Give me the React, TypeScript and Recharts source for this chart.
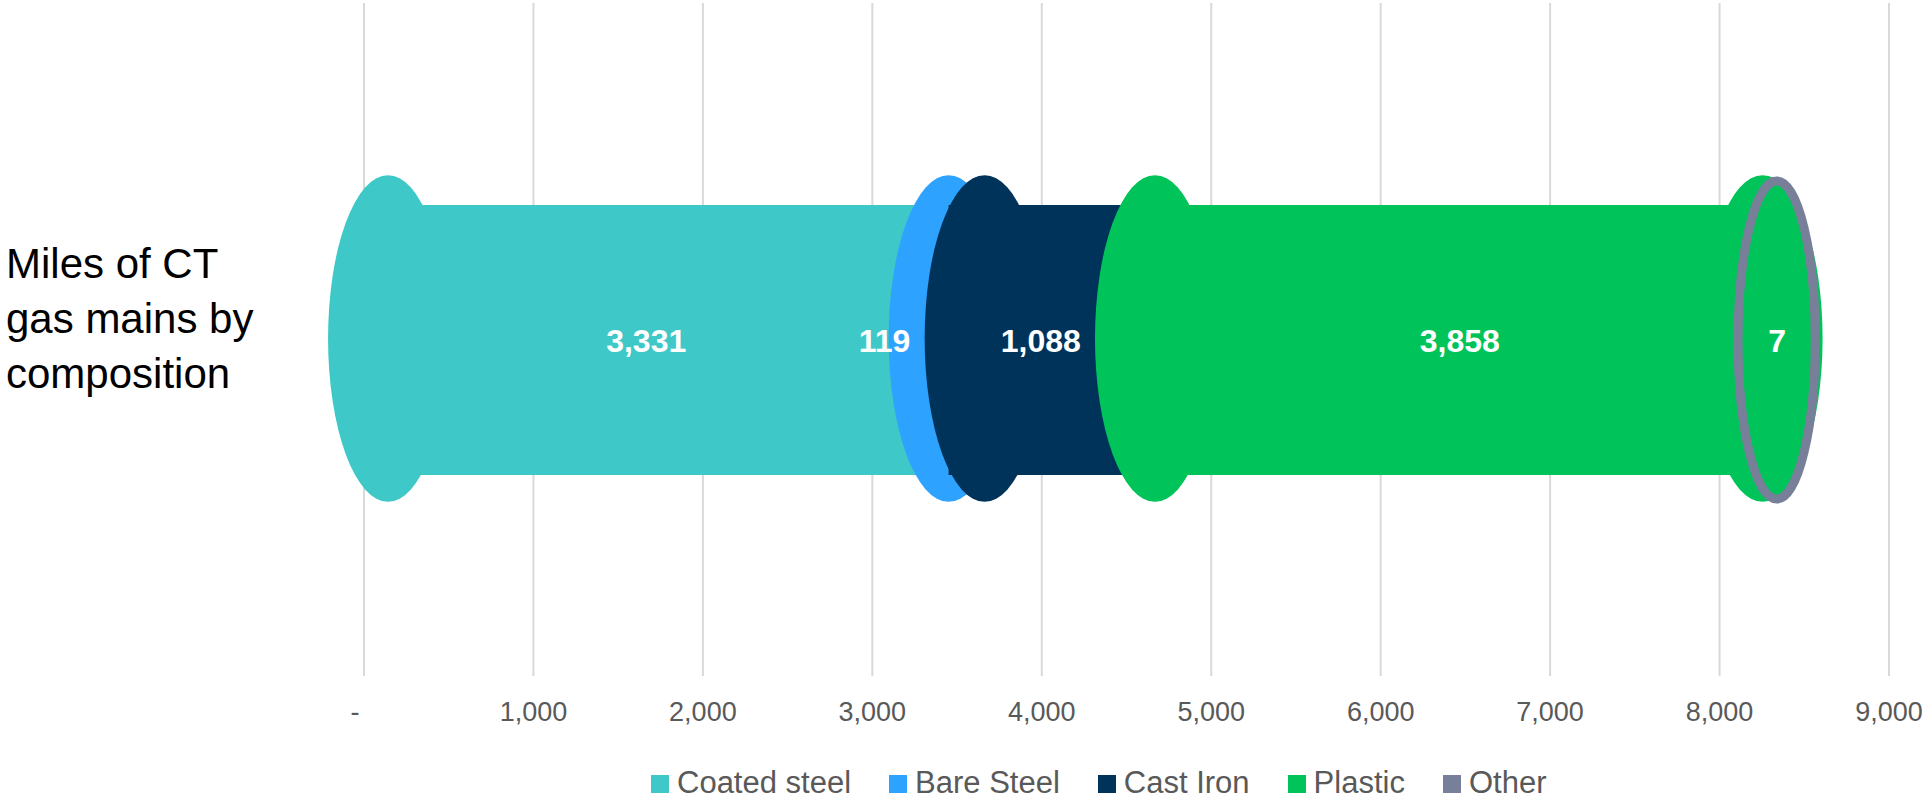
import React from 'react';
import { BarChart, Bar, XAxis, YAxis, CartesianGrid, LabelList, Legend } from 'recharts';

// Miles of gas mains by pipe material
const categories = ['Miles of CT gas mains by composition'];
const seriesNames = ['Coated steel', 'Bare Steel', 'Cast Iron', 'Plastic', 'Other'];
const coatedSteel = [3331];
const bareSteel = [119];
const castIron = [1088];
const plastic = [3858];
const other = [7];
const axisTicks = [0, 1000, 2000, 3000, 4000, 5000, 6000, 7000, 8000, 9000];

const FONT = "'Liberation Sans', Arial, sans-serif";
const WIDTH = 1929;
const HEIGHT = 801;

const data = categories.map((name, i) => ({
  name,
  coated: coatedSteel[i],
  bare: bareSteel[i],
  cast: castIron[i],
  plastic: plastic[i],
  other: other[i],
}));

type PipeOpts = { lead: number; tail?: number; ring?: boolean };

// Each segment is a pipe body with a flange (ellipse) near its start;
// the ring style draws only an outlined collar.
const pipeShape = (opts: PipeOpts) => (props: any) => {
  const { x, y, width, height, fill } = props;
  const cy = y + height / 2;
  const rx = height * 0.222;
  const ry = height * 0.605;
  if (opts.ring) {
    return (
      <ellipse
        cx={x + opts.lead}
        cy={cy}
        rx={height * 0.143}
        ry={height * 0.589}
        fill="none"
        stroke={fill}
        strokeWidth={9}
      />
    );
  }
  const lead = Math.min(opts.lead, width);
  return (
    <g>
      <rect x={x} y={y} width={width} height={height} fill={fill} />
      <ellipse cx={x + lead} cy={cy - 1.5} rx={rx} ry={ry} fill={fill} />
      {opts.tail !== undefined && (
        <ellipse cx={x + width - opts.tail} cy={cy - 1.5} rx={rx} ry={ry} fill={fill} />
      )}
    </g>
  );
};

const valueLabel = (dx: number) => (props: any) => {
  const vb = props.viewBox && props.viewBox.width !== undefined ? props.viewBox : props;
  const { x, y, width, height } = vb;
  const { value } = props;
  return (
    <text
      x={x + width / 2 + dx}
      y={y + height / 2}
      dy="0.36em"
      textAnchor="middle"
      fill="#ffffff"
      fontWeight={700}
      fontSize={32}
      fontFamily={FONT}
    >
      {Number(value).toLocaleString('en-US')}
    </text>
  );
};

const series = [
  { key: 'coated', name: seriesNames[0], color: '#3EC8C7', shape: pipeShape({ lead: 24 }), dx: 0 },
  { key: 'bare', name: seriesNames[1], color: '#2EA2FF', shape: pipeShape({ lead: 24 }), dx: -54 },
  { key: 'cast', name: seriesNames[2], color: '#003359', shape: pipeShape({ lead: 36 }), dx: 0 },
  { key: 'plastic', name: seriesNames[3], color: '#00C45A', shape: pipeShape({ lead: 22, tail: 24 }), dx: 0 },
  { key: 'other', name: seriesNames[4], color: '#777F99', shape: pipeShape({ lead: -10, ring: true }), dx: -10 },
];

const wrapWords = (text: string, maxChars: number) => {
  const lines: string[] = [];
  let current = '';
  text.split(' ').forEach((word) => {
    const next = current ? `${current} ${word}` : word;
    if (next.length > maxChars && current) {
      lines.push(current);
      current = word;
    } else {
      current = next;
    }
  });
  if (current) lines.push(current);
  return lines;
};

const CategoryTick = (props: any) => {
  const { y, payload } = props;
  const lines = wrapWords(String(payload.value), 12);
  const lineHeight = 55;
  const first = y - 6.5 - ((lines.length - 1) / 2) * lineHeight;
  return (
    <g>
      {lines.map((line, i) => (
        <text
          key={i}
          x={6}
          y={first + i * lineHeight}
          textAnchor="start"
          fill="#000000"
          fontSize={42}
          fontFamily={FONT}
        >
          {line}
        </text>
      ))}
    </g>
  );
};

const ValueTick = (props: any) => {
  const { x, y, payload } = props;
  const v = Number(payload.value);
  return (
    <text
      x={x + (v === 0 ? -9 : 0)}
      y={y + 45}
      textAnchor="middle"
      fill="#595959"
      fontSize={27}
      fontFamily={FONT}
    >
      {v === 0 ? '-' : v.toLocaleString('en-US')}
    </text>
  );
};

const LegendContent = () => (
  <div
    style={{
      display: 'flex',
      fontFamily: FONT,
      fontSize: 31,
      lineHeight: '31px',
      color: '#595959',
      whiteSpace: 'nowrap',
    }}
  >
    {series.map((s) => (
      <div key={s.key} style={{ display: 'flex', alignItems: 'flex-start', marginRight: 38 }}>
        <span
          style={{
            display: 'inline-block',
            width: 18,
            height: 18,
            background: s.color,
            marginTop: 8,
            marginRight: 8,
          }}
        />
        <span>{s.name}</span>
      </div>
    ))}
  </div>
);

export default function App() {
  return (
    <div
      style={{
        position: 'absolute',
        left: 0,
        top: 0,
        width: WIDTH,
        height: HEIGHT,
        overflow: 'hidden',
        background: '#ffffff',
      }}
    >
      <BarChart
        width={WIDTH}
        height={HEIGHT}
        data={data}
        layout="vertical"
        margin={{ top: 3, right: 40, bottom: 0, left: 0 }}
        barSize={270}
      >
        <CartesianGrid horizontal={false} stroke="#D9D9D9" strokeWidth={2} />
        <XAxis
          type="number"
          domain={[0, 9000]}
          ticks={axisTicks}
          interval={0}
          axisLine={false}
          tickLine={false}
          tickSize={0}
          tickMargin={0}
          height={94}
          tick={<ValueTick />}
        />
        <YAxis
          type="category"
          dataKey="name"
          width={364}
          axisLine={false}
          tickLine={false}
          tick={<CategoryTick />}
        />
        <Legend
          verticalAlign="bottom"
          content={<LegendContent />}
          wrapperStyle={{ left: 651, top: 767, bottom: 'auto', width: 'auto', height: 'auto' }}
        />
        {series.map((s) => (
          <Bar
            key={s.key}
            dataKey={s.key}
            name={s.name}
            stackId="pipe"
            fill={s.color}
            shape={s.shape}
            isAnimationActive={false}
          >
            <LabelList dataKey={s.key} content={valueLabel(s.dx)} />
          </Bar>
        ))}
      </BarChart>
    </div>
  );
}
